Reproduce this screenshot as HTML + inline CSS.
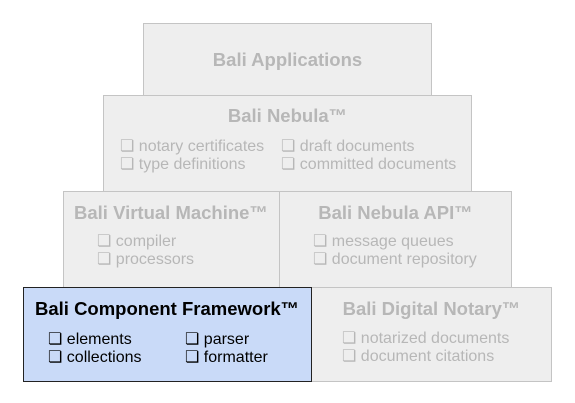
<!DOCTYPE html>
<html><head><style>
body{margin:0;width:575px;height:403px;background:#fff;font-family:"Liberation Sans",sans-serif;position:relative;overflow:hidden}
.b{position:absolute;box-sizing:border-box;background:#eeeeee;border:1px solid #c4c4c4}
.t{position:absolute;font-weight:bold;font-size:18.5px;color:#b7b7b7;white-space:nowrap}
.i{position:absolute;font-size:16px;color:#b7b7b7;line-height:18px;white-space:nowrap}
.k{color:#000}
</style></head><body>
<div class="b" style="left:143px;top:23px;width:289px;height:73px"></div>
<div class="b" style="left:103px;top:95px;width:369px;height:97px"></div>
<div class="b" style="left:63px;top:191px;width:217px;height:97px"></div>
<div class="b" style="left:279px;top:191px;width:233px;height:97px"></div>
<div class="b" style="left:310px;top:287px;width:242px;height:95px"></div>
<div class="b" style="left:23px;top:287px;width:289px;height:95px;background:#c9daf8;border-color:#222"></div>

<div class="t" style="left:143px;width:289px;text-align:center;top:49px">Bali Applications</div>
<div class="t" style="left:103px;width:369px;text-align:center;top:105px">Bali Nebula™</div>
<div class="i" style="left:120px;top:138px">❏ notary certificates<br>❏ type definitions</div>
<div class="i" style="left:281px;top:138px">❏ draft documents<br>❏ committed documents</div>
<div class="t" style="left:74px;top:202px">Bali Virtual Machine™</div>
<div class="i" style="left:97px;top:233px">❏ compiler<br>❏ processors</div>
<div class="t" style="left:279px;width:233px;text-align:center;top:202px">Bali Nebula API™</div>
<div class="i" style="left:313px;top:233px">❏ message queues<br>❏ document repository</div>
<div class="t k" style="left:35px;top:298px">Bali Component Framework™</div>
<div class="i k" style="left:48px;top:331px">❏ elements<br>❏ collections</div>
<div class="i k" style="left:185px;top:331px">❏ parser<br>❏ formatter</div>
<div class="t" style="left:311px;width:241px;text-align:center;top:298px">Bali Digital Notary™</div>
<div class="i" style="left:342px;top:330px">❏ notarized documents<br>❏ document citations</div>
</body></html>
